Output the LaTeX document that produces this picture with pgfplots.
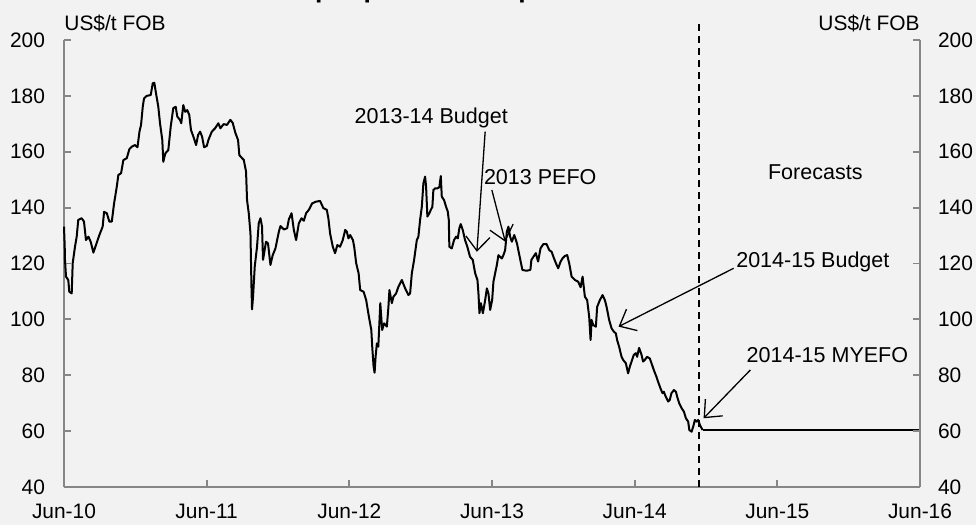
\documentclass[border=0pt]{standalone}
\usepackage{fontspec}
\setmainfont{Liberation Sans}
\usepackage{pgfplots}
\pgfplotsset{compat=1.18}
\usetikzlibrary{arrows.meta}
\definecolor{bg}{HTML}{F2F2F2}
\definecolor{axgray}{HTML}{868686}
\newcommand{\lbl}{\fontsize{10.5}{12}\selectfont}
\newcommand{\ann}{\fontsize{10.8}{12}\selectfont}
\begin{document}
\begin{tikzpicture}[x=1bp,y=1bp]
\fill[bg] (-32,-19) rectangle (456,243.5);
\useasboundingbox (-32,-19) rectangle (456,243.5);
\pgfplotsset{common/.style={
  scale only axis, width=428bp, height=223.5bp, at={(0,0)}, anchor=south west,
  xmin=0, xmax=6, ymin=40, ymax=200,
  ytick={40,60,...,200},
  axis line style={-, axgray, line width=0.9bp},
  tick style={axgray, line width=0.9bp},
  major tick length=3.5bp, tick align=inside,
  ticklabel style={font=\lbl},
  /pgf/number format/assume math mode=true,
  clip=false,
}}
\begin{axis}[common,
  axis x line*=bottom, axis y line*=left,
  xtick={0,1,2,3,4,5,6},
  xticklabels={Jun-10,Jun-11,Jun-12,Jun-13,Jun-14,Jun-15,Jun-16},
  yticklabel style={xshift=-6bp},
  xticklabel style={yshift=-5bp},
]
\addplot[black, line width=1bp, line join=round] coordinates {
(0.000,133.2) (0.005,126) (0.007,121.3) (0.014,115.3) (0.030,114.1) (0.037,109.9)
(0.054,109.3) (0.061,120.1) (0.077,126) (0.089,129.6) (0.100,135.6) (0.124,136.2)
(0.140,135) (0.154,128.4) (0.171,129.6) (0.187,127.8) (0.206,123.9) (0.224,126.6)
(0.248,130.2) (0.271,133.2) (0.281,138.5) (0.300,138) (0.318,135) (0.335,135)
(0.351,141.5) (0.370,147.5) (0.381,151.7) (0.400,152.3) (0.416,157) (0.440,157.7)
(0.458,160.9) (0.475,161.8) (0.498,162.4) (0.515,161.6) (0.529,167.2) (0.540,169.6)
(0.552,176.1) (0.561,179.1) (0.580,180) (0.608,180.3) (0.622,184.5) (0.633,184.7)
(0.645,180.9) (0.661,176.1) (0.673,170.2) (0.689,164.2) (0.696,156.4) (0.710,159.4)
(0.731,160.6) (0.748,169) (0.766,175.6) (0.783,176.1) (0.794,172.6) (0.813,171.4)
(0.822,170.2) (0.836,176.7) (0.850,174.3) (0.864,174.9) (0.878,173.2) (0.890,167.8)
(0.907,165.4) (0.926,162.4) (0.940,166) (0.954,167.2) (0.968,165.4) (0.982,161.6)
(1.001,162.1) (1.012,164.2) (1.036,167.2) (1.059,168.4) (1.082,170.2) (1.096,168.4)
(1.119,169.9) (1.142,169.6) (1.166,171.4) (1.182,170.4) (1.201,166.8) (1.220,164.2)
(1.229,158.8) (1.248,157.7) (1.260,157.1) (1.276,152.9) (1.283,142.7) (1.295,138)
(1.307,130.8) (1.314,111.7) (1.318,103.6) (1.325,108.1) (1.337,118.9) (1.353,126)
(1.365,134.4) (1.377,136.2) (1.388,133.2) (1.395,121.3) (1.416,127.8) (1.430,127.2)
(1.447,119.5) (1.463,123) (1.482,125.4) (1.506,131.4) (1.517,133.4) (1.541,132.2)
(1.564,132.6) (1.576,135.8) (1.595,138) (1.611,132) (1.627,128.4) (1.646,134.4)
(1.665,136.2) (1.681,135.3) (1.697,138) (1.716,139.2) (1.739,141.5) (1.763,142.1)
(1.795,142.4) (1.818,139.8) (1.842,139.2) (1.853,136.2) (1.865,130.8) (1.884,126)
(1.900,123.7) (1.916,126.6) (1.935,126) (1.954,128.4) (1.971,132) (1.982,131.4)
(1.994,129) (2.006,130.2) (2.025,128.4) (2.034,126) (2.048,120.1) (2.065,116.5)
(2.076,110.5) (2.100,109.9) (2.118,106.9) (2.137,101) (2.154,96.2) (2.161,89.8)
(2.170,83.1) (2.177,80.9) (2.184,86.6) (2.193,91.4) (2.203,90.2) (2.217,105.8)
(2.230,96.2) (2.244,98.6) (2.263,97.4) (2.274,104.5) (2.281,110.5) (2.298,105.8)
(2.309,108.1) (2.328,109.3) (2.344,111.7) (2.368,114.1) (2.391,111.1) (2.414,108.7)
(2.426,109.3) (2.438,116.5) (2.454,121.3) (2.473,128.4) (2.484,129.6) (2.496,135.6)
(2.508,140.3) (2.519,148.7) (2.531,151.1) (2.538,147.5) (2.547,136.8) (2.561,138)
(2.571,139.2) (2.582,140.3) (2.589,146.3) (2.601,146.9) (2.617,146.9) (2.631,147.3)
(2.641,151.3) (2.648,143.9) (2.664,142.7) (2.678,140.3) (2.690,138.6) (2.697,135.6)
(2.701,126) (2.718,125.4) (2.734,128.4) (2.748,129.6) (2.760,129) (2.771,132.6)
(2.781,134.1) (2.795,132) (2.811,128.4) (2.827,126) (2.846,122.4) (2.865,121.3)
(2.882,116.5) (2.898,114.1) (2.905,109.3) (2.912,102.2) (2.922,105.8) (2.936,102.2)
(2.952,106.9) (2.964,111.1) (2.975,109.3) (2.987,103.4) (3.001,106.9) (3.010,113.5)
(3.022,116.5) (3.034,119.5) (3.045,123) (3.057,122.4) (3.069,121.8) (3.080,123)
(3.092,124.8) (3.104,131.4) (3.115,133.2) (3.127,129.6) (3.139,127.8) (3.156,130.2)
(3.175,127.2) (3.194,122.4) (3.213,117.7) (3.241,117.4) (3.269,117.7) (3.276,121.3)
(3.307,123.7) (3.323,120.7) (3.340,125.4) (3.359,126.9) (3.382,127) (3.401,124.8)
(3.418,124.2) (3.434,121.9) (3.453,119.5) (3.464,118.3) (3.481,120.7) (3.495,121.9)
(3.511,122.7) (3.527,123) (3.541,120.1) (3.558,115.3) (3.581,114.1) (3.604,113.5)
(3.621,111.5) (3.635,115.3) (3.651,108.1) (3.667,106.9) (3.681,101) (3.691,92.6)
(3.698,99.8) (3.709,98) (3.728,97.4) (3.737,104.5) (3.756,106.9) (3.775,108.7)
(3.791,106.9) (3.803,104.5) (3.821,99.8) (3.838,96.8) (3.854,95.6) (3.868,95)
(3.877,92.6) (3.891,90.2) (3.908,86.6) (3.919,85.5) (3.938,84.3) (3.954,80.7)
(3.966,83.1) (3.978,84.9) (3.994,87.3) (4.008,87.9) (4.017,86.6) (4.031,89.8)
(4.048,87.3) (4.059,84.9) (4.071,85.5) (4.087,86.6) (4.106,86) (4.118,84.3)
(4.134,81.9) (4.153,79.4) (4.164,77.7) (4.181,75.3) (4.195,73.6) (4.204,74.1)
(4.218,72.3) (4.235,70.6) (4.246,71.2) (4.258,73.6) (4.275,74.7) (4.289,74.1)
(4.298,72.3) (4.312,70) (4.329,68.2) (4.345,67) (4.359,64.6) (4.375,63.4)
(4.383,60.4) (4.399,59.8) (4.410,61.6) (4.422,64) (4.434,63.4) (4.445,64)
(4.457,62.2) (4.476,60.4)
};
\addplot[black, line width=1bp] coordinates {(4.476,60.4) (6,60.4)};
\addplot[black, line width=0.75bp, dash pattern=on 3.5bp off 2.5bp] coordinates {(4.452,40) (4.452,206.4)};
\draw[-{Straight Barb[length=7bp,width=12bp]}, line width=0.65bp] (axis cs:2.952,167.2) -- (axis cs:2.894,124.2);
\draw[-{Straight Barb[length=7bp,width=12bp]}, line width=0.65bp] (axis cs:2.999,146.3) -- (axis cs:3.093,127.8);
\draw[-{Straight Barb[length=7bp,width=12bp]}, line width=0.65bp] (axis cs:4.694,118.3) -- (axis cs:3.887,97.4);
\draw[-{Straight Barb[length=7bp,width=12bp]}, line width=0.65bp] (axis cs:4.811,81.9) -- (axis cs:4.483,64.6);
\node[font=\ann, inner sep=0] at (axis cs:2.574,172.1) {2013-14 Budget};
\node[font=\ann, inner sep=0] at (axis cs:3.338,151.1) {2013 PEFO};
\node[font=\ann, inner sep=0] at (axis cs:5.266,152.8) {Forecasts};
\node[font=\ann, inner sep=0] at (axis cs:5.249,120.5) {2014-15 Budget};
\node[font=\ann, inner sep=0] at (axis cs:5.351,87.3) {2014-15 MYEFO};
\node[font=\lbl, inner sep=0, anchor=base west] at ([yshift=5bp]rel axis cs:0,1) {US\$/t FOB};
\node[font=\lbl, inner sep=0, anchor=base east] at ([yshift=5bp]rel axis cs:1,1) {US\$/t FOB};
\end{axis}
\begin{axis}[common,
  axis y line*=right, axis x line=none,
  yticklabel style={xshift=5.5bp},
]
\addplot[draw=none] coordinates {(0,40)};
\end{axis}
\node[anchor=base west, font=\bfseries\fontsize{13.3}{16}\selectfont, inner sep=0] at (65,244.75) {Iron ore spot price assumptions};
\end{tikzpicture}
\end{document}
